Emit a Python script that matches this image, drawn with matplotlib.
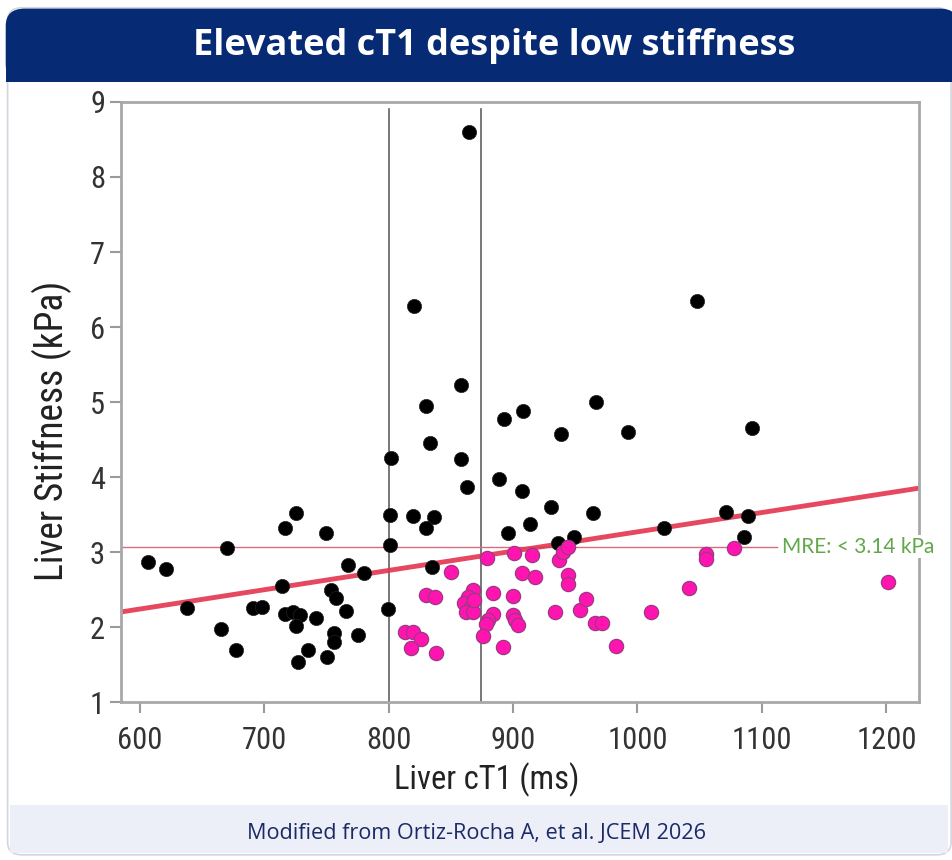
import matplotlib.pyplot as plt
from matplotlib.patches import FancyBboxPatch, Rectangle

# black = cT1/stiffness points, pink = elevated cT1 with low stiffness
black_x = [606.7, 620.9, 638.0, 670.4, 665.6, 677.1, 691.0, 698.0, 716.5, 725.9,
           750.0, 714.0, 767.3, 780.2, 754.0, 757.5, 766.0, 741.9, 716.5, 723.1,
           728.5, 725.8, 755.8, 755.8, 775.3, 735.2, 727.1, 750.7, 802.2, 800.8,
           801.0, 799.5, 865.0, 820.1, 858.4, 830.3, 832.9, 857.8, 862.9, 892.6,
           907.9, 966.8, 938.7, 992.5, 888.4, 907.1, 930.7, 964.1, 913.3, 895.8,
           819.5, 836.1, 830.3, 936.0, 949.4, 835.0, 1047.6, 1091.8, 1021.1, 1071.2,
           1088.6, 1085.4]
black_y = [2.87, 2.78, 2.26, 3.05, 1.98, 1.69, 2.26, 2.27, 3.32, 3.52,
           3.25, 2.55, 2.83, 2.72, 2.50, 2.39, 2.22, 2.12, 2.17, 2.20,
           2.16, 2.01, 1.92, 1.80, 1.90, 1.70, 1.54, 1.60, 4.25, 3.49,
           3.09, 2.24, 8.60, 6.28, 5.23, 4.95, 4.46, 4.24, 3.87, 4.78,
           4.88, 5.00, 4.57, 4.60, 3.97, 3.81, 3.60, 3.52, 3.37, 3.26,
           3.48, 3.47, 3.32, 3.12, 3.20, 2.80, 6.35, 4.66, 3.32, 3.53,
           3.48, 3.20]

pink_x = [878.9, 900.6, 915.5, 937.3, 940.0, 944.5, 849.8, 907.1, 917.8, 944.0,
          944.0, 830.3, 837.0, 867.7, 863.7, 861.0, 866.4, 862.3, 867.7, 869.0,
          883.8, 899.9, 883.8, 879.8, 877.9, 899.9, 901.2, 903.9, 933.8, 954.2,
          958.8, 965.5, 971.6, 982.9, 813.5, 820.0, 826.3, 818.2, 838.5, 875.7,
          891.8, 1077.3, 1055.2, 1055.2, 1041.2, 1011.0, 1201.0]
pink_y = [2.92, 2.99, 2.96, 2.89, 3.00, 3.07, 2.74, 2.72, 2.67, 2.69,
          2.58, 2.43, 2.40, 2.49, 2.40, 2.32, 2.27, 2.20, 2.20, 2.36,
          2.45, 2.42, 2.18, 2.10, 2.04, 2.16, 2.09, 2.03, 2.20, 2.23,
          2.38, 2.06, 2.06, 1.75, 1.93, 1.94, 1.84, 1.72, 1.65, 1.88,
          1.74, 3.05, 2.98, 2.91, 2.52, 2.20, 2.60]

fit_a, fit_b = 0.695, 0.002574   # regression line y = a + b*x
mre_cut = 3.07
ct1_cuts = [800, 874]
x_ticks = [600, 700, 800, 900, 1000, 1100, 1200]
y_ticks = [1, 2, 3, 4, 5, 6, 7, 8, 9]

narrow = ['Roboto Condensed', 'Roboto', 'DejaVu Sans']

fig = plt.figure(figsize=(9.53, 8.6), dpi=100)

# card, banner and footer
fig.patches.append(FancyBboxPatch((0.008, 0.006), 0.99, 0.985, boxstyle='round,pad=0,rounding_size=0.015',
                                  transform=fig.transFigure, fc='white', ec='#d4d6de', lw=1.2, zorder=0))
fig.patches.append(FancyBboxPatch((0.006, 0.905), 1.0, 0.085, boxstyle='round,pad=0,rounding_size=0.02',
                                  transform=fig.transFigure, fc='#062a73', ec='none', zorder=1))
fig.patches.append(Rectangle((0.006, 0.905), 1.0, 0.03, transform=fig.transFigure, fc='#062a73', ec='none', zorder=1))
fig.patches.append(Rectangle((0.010, 0.008), 0.985, 0.056, transform=fig.transFigure, fc='#eceef8', ec='none', zorder=1))
fig.text(0.519, 0.946, 'Elevated cT1 despite low stiffness', color='white', fontsize=26, fontweight='bold',
         family=['Open Sans', 'DejaVu Sans'], ha='center', va='center')
fig.text(0.5, 0.031, 'Modified from Ortiz-Rocha A, et al. JCEM 2026', color='#1b2a66', fontsize=15.6,
         family=['Open Sans', 'DejaVu Sans'], ha='center', va='center')

ax = fig.add_axes([0.127, 0.1837, 0.837, 0.6977])
ax.set_zorder(3)
ax.set_xlim(585, 1226)
ax.set_ylim(1, 9)

for c in ct1_cuts:
    ax.axvline(c, ymax=0.988, color='#606060', lw=1.2, zorder=1)
ax.plot([585, 1112], [mre_cut, mre_cut], color='#d27080', lw=1.0, zorder=1)
ax.plot([585, 1226], [fit_a + fit_b * 585, fit_a + fit_b * 1226], color='#e3344e', lw=3.5, alpha=0.9, zorder=2)

ax.scatter(black_x, black_y, s=105, c='black', edgecolors='#222222', linewidths=0.5, zorder=3)
ax.scatter(pink_x, pink_y, s=105, c='#ff14b0', edgecolors='#9a3a82', linewidths=0.9, zorder=4)

ax.text(1116, mre_cut, 'MRE: < 3.14 kPa', color='#62a84a', fontsize=15, family=['Lato', 'DejaVu Sans'],
        ha='left', va='center', clip_on=False, zorder=5,
        bbox=dict(fc='white', ec='none', pad=1))

ax.set_xticks(x_ticks)
ax.set_yticks(y_ticks)
ax.tick_params(axis='both', colors='#9a9a9a', length=8, width=1.5, labelcolor='#333333', labelsize=22)
ax.tick_params(axis='x', pad=9)
for lab in ax.get_xticklabels() + ax.get_yticklabels():
    lab.set_family(narrow)
for sp in ax.spines.values():
    sp.set_color('#a8a8a8')
    sp.set_linewidth(2)

ax.set_xlabel('Liver cT1 (ms)', fontsize=23.5, family=narrow, color='#222222')
ax.set_ylabel('Liver Stiffness (kPa)', fontsize=27, family=narrow, color='#222222')
ax.xaxis.set_label_coords(0.459, -0.1)
ax.yaxis.set_label_coords(-0.062, 0.452)

plt.savefig('out.png', dpi=100)
